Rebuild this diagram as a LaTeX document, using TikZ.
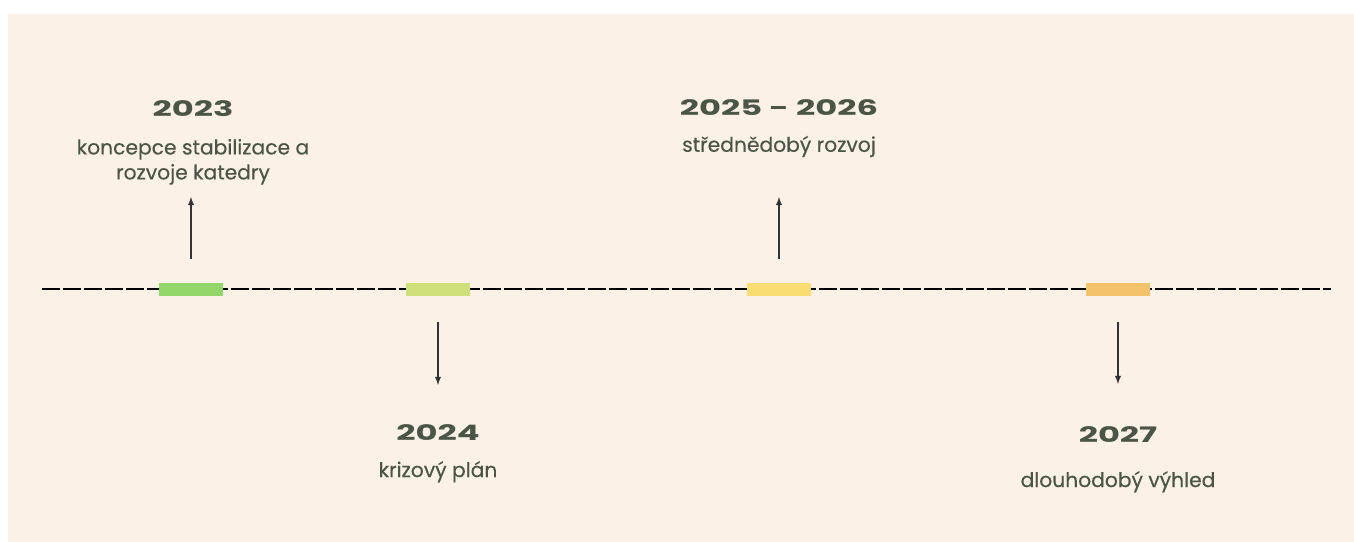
\documentclass[tikz,border=0pt]{standalone}
\usepackage{fontspec}
\setmainfont{Poppins}
\newfontfamily\yearfont{Poppins}[FakeStretch=1.58]
\newfontfamily\notefont{Poppins}[FakeBold=0.3]
\usetikzlibrary{arrows, positioning}
\definecolor{bgbeige}{HTML}{FCF1E6}
\definecolor{textgreen}{HTML}{4A5545}
\definecolor{mark23}{HTML}{93D66B}
\definecolor{mark24}{HTML}{CFE07A}
\definecolor{mark25}{HTML}{F9DD72}
\definecolor{mark27}{HTML}{F3C36C}

\begin{document}
\begin{tikzpicture}[x=0.75pt, y=-0.75pt,
    year/.style={font=\yearfont\bfseries\fontsize{16}{19}\selectfont, text=textgreen, inner sep=0pt, anchor=base},
    note/.style={font=\notefont\fontsize{15.2}{18.75}\selectfont, text=textgreen, align=center, inner sep=0pt},
    marker/.style={minimum width=48pt, minimum height=9.75pt, inner sep=0pt},
    pointer/.style={-latex, line width=1.1pt, draw=black!80},
    timeline/.style={line width=1.5pt, dash pattern=on 13.5pt off 2.25pt}]
    \useasboundingbox (0,0) rectangle (1354,542);
    % Background
    \fill[bgbeige] (8,14) rectangle (1354,542);

    % Time axis
    \coordinate (axisstart) at (42,289);
    \coordinate (axisend) at (1331,289);
    \draw[timeline] (axisstart) -- (axisend);

    % Markers on the axis
    \node[marker, fill=mark23] (b23) at (191,289) {};
    \node[marker, fill=mark24] (b24) at (438,289) {};
    \node[marker, fill=mark25] (b25) at (779,289) {};
    \node[marker, fill=mark27] (b27) at (1118,289) {};

    % Labels above the axis
    \node[year] (y23) at (193,117) {2023};
    \node[note, below=16pt of y23] (d23) {koncepce stabilizace a\\rozvoje katedry};
    \node[year] (y25) at (779,116) {2025 - 2026};
    \node[note, below=14.5pt of y25] (d25) {střednědobý rozvoj};

    % Labels below the axis
    \node[year] (y24) at (438,440) {2024};
    \node[note, below=15.5pt of y24] (d24) {krizový plán};
    \node[year] (y27) at (1118,442) {2027};
    \node[note, below=21.5pt of y27] (d27) {dlouhodobý výhled};

    % Pointers
    \coordinate (tip23) at (191,197);
    \coordinate (tip24) at (438,385);
    \coordinate (tip25) at (779,197);
    \coordinate (tip27) at (1118,384);
    \draw[pointer, shorten <=17.25pt] (b23.north) -- (tip23);
    \draw[pointer, shorten <=19.5pt] (b24.south) -- (tip24);
    \draw[pointer, shorten <=17.25pt] (b25.north) -- (tip25);
    \draw[pointer, shorten <=19.5pt] (b27.south) -- (tip27);
\end{tikzpicture}
\end{document}
